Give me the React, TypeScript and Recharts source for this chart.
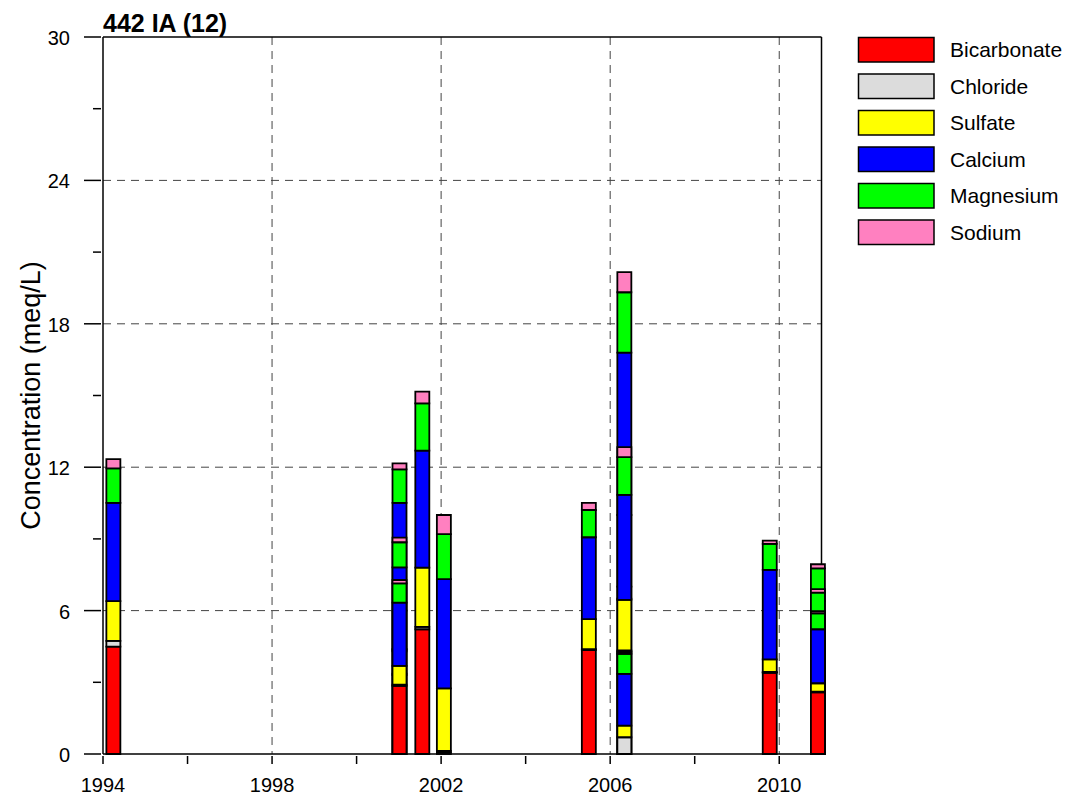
import React from 'react';
import { ComposedChart, Bar, XAxis, YAxis, CartesianGrid } from 'recharts';

// ---------- data ----------
const chartTitle = '442 IA (12)';
const yAxisTitle = 'Concentration (meq/L)';

const sampleDates = [1994.24, 2001.01, 2001.55, 2002.06, 2005.49, 2006.33, 2009.77, 2010.91];

const seriesNames = ['Bicarbonate', 'Chloride', 'Sulfate', 'Calcium', 'Magnesium', 'Sodium'];
const seriesKeys = ['hco3', 'cl', 'so4', 'ca', 'mg', 'na'];
const seriesColors = ['#FF0000', '#DCDCDC', '#FFFF00', '#0000FF', '#00FF00', '#FF80C0'];

const xTicks = [1994, 1996, 1998, 2000, 2002, 2004, 2006, 2008, 2010];
const xLabelTicks = [1994, 1998, 2002, 2006, 2010];
const yTicks = [0, 3, 6, 9, 12, 15, 18, 21, 24, 27, 30];
const yLabelTicks = [0, 6, 12, 18, 24, 30];
const xGridValues = [1998, 2002, 2006, 2010];
const yGridValues = [6, 12, 18, 24];

// front samples (drawn on top)
const bicarbonateFront = [4.49, 2.85, 5.22, 0.06, 4.35, 0, 3.4, 2.58];
const chlorideFront = [0.24, 0.05, 0.1, 0.07, 0.04, 0.7, 0.03, 0.03];
const sulfateFront = [1.67, 0.79, 2.48, 2.62, 1.25, 0.49, 0.53, 0.35];
const calciumFront = [4.11, 2.64, 4.89, 4.57, 3.43, 2.16, 3.74, 2.26];
const magnesiumFront = [1.44, 0.81, 1.98, 1.88, 1.14, 0.84, 1.09, 0.67];
const sodiumFront = [0.39, 0.14, 0.49, 0.8, 0.3, 0.06, 0.14, 0.09];

// second samples on the same date (drawn behind the front ones)
const bicarbonateMiddle = [null, 3.3, null, null, null, 4.28, null, 2.8];
const chlorideMiddle = [null, 0.06, null, null, null, 0.05, null, 0.05];
const sulfateMiddle = [null, 1.0, null, null, null, 2.12, null, 0.4];
const calciumMiddle = [null, 3.45, null, null, null, 4.39, null, 2.45];
const magnesiumMiddle = [null, 1.05, null, null, null, 1.58, null, 1.05];
const sodiumMiddle = [null, 0.19, null, null, null, 0.42, null, 0.15];

// third samples on the same date (drawn at the back)
const bicarbonateBack = [null, 4.3, null, null, null, 6.5, null, 3.1];
const chlorideBack = [null, 0.1, null, null, null, 0.5, null, 0.05];
const sulfateBack = [null, 1.6, null, null, null, 3.0, null, 0.45];
const calciumBack = [null, 4.51, null, null, null, 6.79, null, 2.8];
const magnesiumBack = [null, 1.4, null, null, null, 2.53, null, 1.37];
const sodiumBack = [null, 0.25, null, null, null, 0.84, null, 0.17];

const layers = [
  { id: 'back', values: [bicarbonateBack, chlorideBack, sulfateBack, calciumBack, magnesiumBack, sodiumBack] },
  { id: 'middle', values: [bicarbonateMiddle, chlorideMiddle, sulfateMiddle, calciumMiddle, magnesiumMiddle, sodiumMiddle] },
  { id: 'front', values: [bicarbonateFront, chlorideFront, sulfateFront, calciumFront, magnesiumFront, sodiumFront] },
];

const rows = sampleDates.map((date, i) => {
  const row: Record<string, number | undefined> = { date };
  layers.forEach((layer) => {
    layer.values.forEach((arr, s) => {
      const v = arr[i];
      row[`${seriesKeys[s]}_${layer.id}`] = v == null ? undefined : v;
    });
  });
  return row;
});

// ---------- styling ----------
const FONT = '"Liberation Sans", Arial, Helvetica, sans-serif';
const BAR_SIZE = 14;

const YTick = (props: any) => {
  const { x, y, payload } = props;
  const v = payload.value;
  const major = yLabelTicks.includes(v);
  return (
    <g>
      <line x1={x - (major ? 17 : 8)} x2={x} y1={y} y2={y} stroke="#000" strokeWidth={1.5} />
      {major && (
        <text x={x - 31} y={y + 8} textAnchor="end" fontSize={20} fontFamily={FONT} fill="#000">
          {v}
        </text>
      )}
    </g>
  );
};

const XTick = (props: any) => {
  const { x, y, payload } = props;
  const v = payload.value;
  const major = xLabelTicks.includes(v);
  return (
    <g>
      <line x1={x} x2={x} y1={y} y2={y + 8} stroke="#000" strokeWidth={1.5} />
      {major && (
        <text x={x} y={y + 36} textAnchor="middle" fontSize={20} fontFamily={FONT} fill="#000">
          {v}
        </text>
      )}
    </g>
  );
};

const YTitle = (props: any) => {
  const vb = props.viewBox || { x: 0, y: 37, width: 103, height: 717 };
  const cx = 40;
  const cy = vb.y + vb.height / 2;
  return (
    <text
      x={cx}
      y={cy}
      transform={`rotate(-90 ${cx} ${cy})`}
      textAnchor="middle"
      fontSize={27}
      fontFamily={FONT}
      fill="#000"
    >
      {yAxisTitle}
    </text>
  );
};

export default function App() {
  return (
    <div style={{ position: 'absolute', left: 0, top: 0, width: 1078, height: 797, background: '#fff' }}>
      <ComposedChart
        width={1078}
        height={797}
        data={rows}
        margin={{ top: 37, right: 256.5, bottom: 0, left: 0 }}
        barSize={BAR_SIZE}
        barGap={-BAR_SIZE}
      >
        <CartesianGrid
          horizontalValues={yGridValues}
          verticalValues={xGridValues}
          stroke="#444"
          strokeWidth={1}
          strokeDasharray="8 6"
        />
        <CartesianGrid horizontalValues={[30]} verticalValues={[2011]} stroke="#000" strokeWidth={1.5} />
        <XAxis
          type="number"
          dataKey="date"
          domain={[1994, 2011]}
          ticks={xTicks}
          interval={0}
          tickSize={0}
          tickLine={false}
          height={43}
          axisLine={{ stroke: '#000', strokeWidth: 1.5 }}
          tick={<XTick />}
        />
        <YAxis
          type="number"
          domain={[0, 30]}
          ticks={yTicks}
          interval={0}
          tickSize={0}
          tickLine={false}
          width={103}
          axisLine={{ stroke: '#000', strokeWidth: 1.5 }}
          tick={<YTick />}
          label={{ content: (p: any) => <YTitle {...p} /> }}
        />
        {layers.map((layer) =>
          seriesKeys.map((key, s) => (
            <Bar
              key={`${key}_${layer.id}`}
              dataKey={`${key}_${layer.id}`}
              name={seriesNames[s]}
              stackId={layer.id}
              fill={seriesColors[s]}
              stroke="#000"
              strokeWidth={1.8}
              barSize={BAR_SIZE}
              isAnimationActive={false}
            />
          ))
        )}
      </ComposedChart>
      <svg
        width={1078}
        height={797}
        style={{ position: 'absolute', left: 0, top: 0, pointerEvents: 'none' }}
      >
        <text x={103} y={31.5} fontSize={25} fontWeight="bold" fontFamily={FONT} fill="#000">
          {chartTitle}
        </text>
        {seriesNames.map((name, i) => (
          <g key={name}>
            <rect
              x={858.5}
              y={37.5 + i * 36.5}
              width={75.5}
              height={24.5}
              fill={seriesColors[i]}
              stroke="#000"
              strokeWidth={1.5}
            />
            <text x={950} y={57 + i * 36.5} fontSize={21} fontFamily={FONT} fill="#000">
              {name}
            </text>
          </g>
        ))}
      </svg>
    </div>
  );
}
